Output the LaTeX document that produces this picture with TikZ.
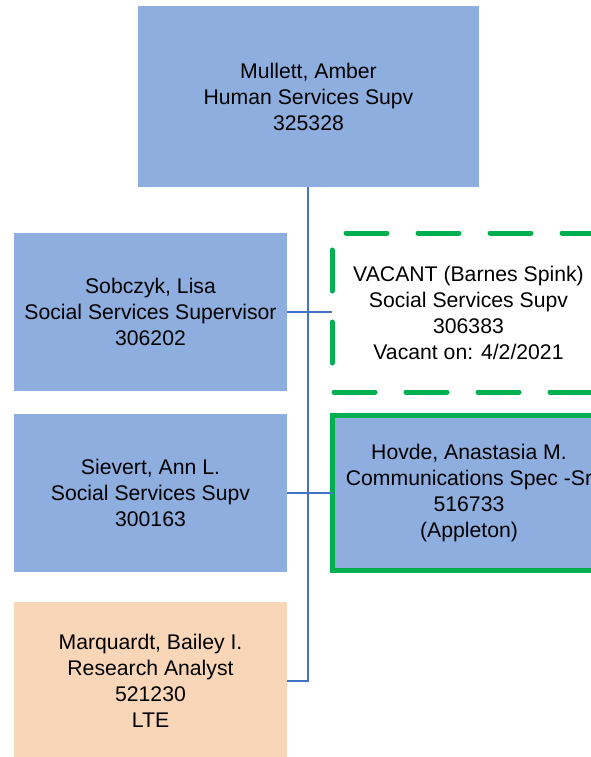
\documentclass[tikz,border=0pt]{standalone}
\usepackage{fontspec}
\setmainfont{Liberation Sans}
\definecolor{boxblue}{HTML}{8EAEDF}
\definecolor{boxpeach}{HTML}{F9D6B8}
\definecolor{linkblue}{HTML}{4472C4}
\definecolor{vgreen}{HTML}{00B050}
\begin{document}
\begin{tikzpicture}[x=1pt,y=-1pt,
  card/.style={fill=boxblue, draw=none, inner sep=0pt, outer sep=0pt,
    minimum width=273pt, minimum height=158pt, align=center,
    font=\fontsize{21.2}{26}\selectfont},
  conn/.style={draw=linkblue, line width=1.5pt},
  vacborder/.style={draw=vgreen, line width=5pt, line cap=round,
    dash pattern=on 41pt off 31pt, dash phase=-2pt}]
\useasboundingbox (0,0) rectangle (591,757);
\clip (0,0) rectangle (591,757);
\node[card, minimum width=341pt, minimum height=181pt] (top) at (308.5,96.5)
  {Mullett, Amber\\Human Services Supv\\325328};
\node[card] (sob) at (150.5,312) {Sobczyk, Lisa\\Social Services Supervisor\\306202};
\node[card] (siev) at (150.5,493) {Sievert, Ann L.\\Social Services Supv\\300163};
\node[card, fill=boxpeach] (marq) at (150.5,681) {Marquardt, Bailey I.\\Research Analyst\\521230\\LTE};
\node[card, fill=none, minimum height=159pt] (vac) at (468.5,312.5)
  {VACANT (Barnes Spink)\\Social Services Supv\\306383\\Vacant on: 4/2/2021};
\draw[vacborder] (vac.south west) -- (vac.south east) -- (vac.north east)
  -- (vac.north west) -- cycle;
\node[card, draw=vgreen, line width=5pt, minimum width=273pt, minimum height=155pt] (hov) at (469,493)
  {Hovde, Anastasia M.\\Communications Spec -Sr\\516733\\(Appleton)};
\coordinate (j) at (308,681);
\draw[conn] (top.south -| j) -- (j) -- (marq.east);
\draw[conn] (sob.east) -- (sob.east -| vac.west);
\draw[conn] (siev.east) -- (siev.east -| hov.west);
\end{tikzpicture}
\end{document}
